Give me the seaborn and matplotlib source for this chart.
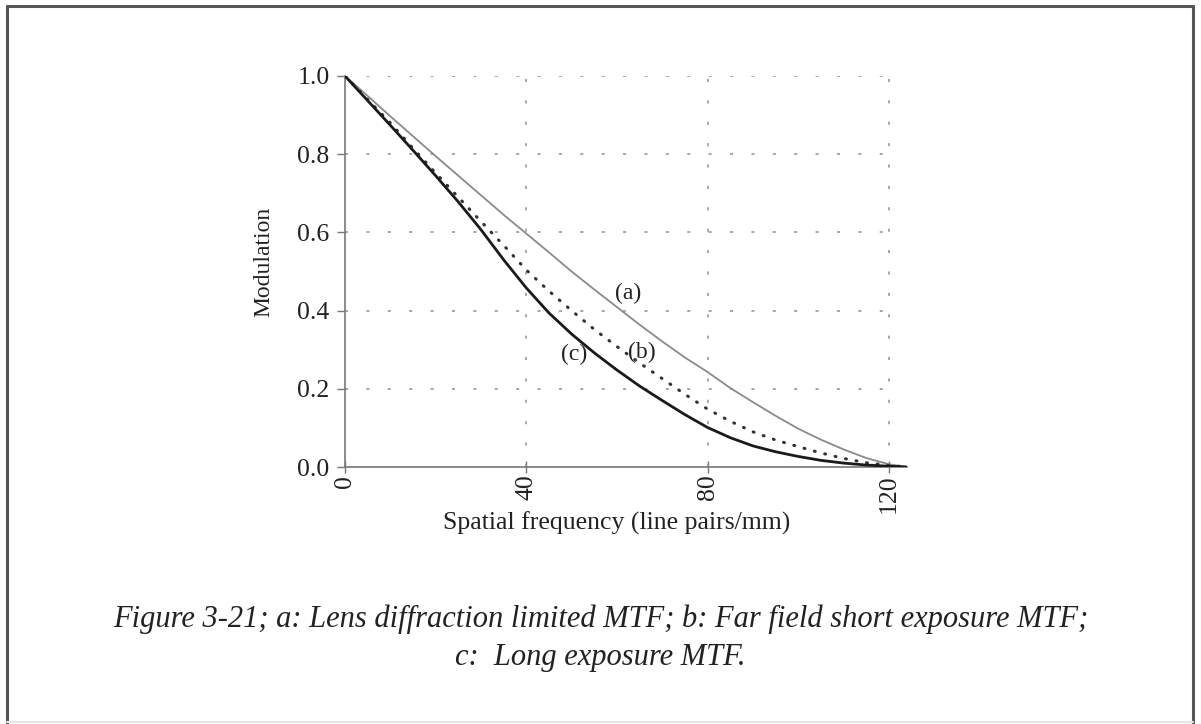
import matplotlib
matplotlib.use("Agg")
import matplotlib.pyplot as plt
from matplotlib.lines import Line2D
import seaborn as sns
import pandas as pd

# Data
freq = [0, 5, 10, 15, 20, 25, 30, 35, 40, 45, 50, 55, 60, 65, 70, 75, 80, 85, 90,
        95, 100, 105, 110, 115, 120, 124]
mtf_a = [1.0, 0.949, 0.897, 0.846, 0.795, 0.745, 0.695, 0.645, 0.597, 0.549, 0.500,
         0.454, 0.409, 0.364, 0.321, 0.280, 0.243, 0.202, 0.166, 0.131, 0.098, 0.070,
         0.045, 0.023, 0.007, 0.0]
mtf_b = [1.0, 0.940, 0.880, 0.815, 0.752, 0.690, 0.628, 0.567, 0.504, 0.450, 0.400,
         0.352, 0.308, 0.266, 0.226, 0.186, 0.148, 0.117, 0.090, 0.069, 0.052, 0.036,
         0.022, 0.011, 0.004, 0.0]
mtf_c = [1.0, 0.937, 0.874, 0.810, 0.745, 0.678, 0.607, 0.530, 0.458, 0.394, 0.340,
         0.292, 0.248, 0.207, 0.170, 0.134, 0.101, 0.075, 0.054, 0.039, 0.027, 0.017,
         0.010, 0.005, 0.002, 0.0]
curve_labels = ["(a)", "(b)", "(c)"]
label_x = [62.5, 65.5, 50.5]
label_y = [0.443, 0.292, 0.287]
x_ticks = [0, 40, 80, 120]
y_ticks = [0.0, 0.2, 0.4, 0.6, 0.8, 1.0]
x_title = "Spatial frequency (line pairs/mm)"
y_title = "Modulation"
caption_1 = "Figure 3-21; a: Lens diffraction limited MTF; b: Far field short exposure MTF;"
caption_2 = "c:  Long exposure MTF."

sns.set_style("white")
plt.rcParams["font.family"] = ["Liberation Serif", "DejaVu Serif"]

df = pd.DataFrame({"freq": freq, "a": mtf_a, "b": mtf_b, "c": mtf_c})

W, H = 1201, 724
fig = plt.figure(figsize=(W / 100, H / 100), dpi=100)
ax = fig.add_axes([345 / W, 257 / H, 562 / W, 391 / H])

# grid (dotted, limited to 0..120 and 0..1)
grid_ls = (0, (2, 12))
ax.hlines(y_ticks[1:], 0, 120, colors="#8f8f8f", linestyles=[grid_ls], linewidth=1.1, zorder=1)
ax.vlines(x_ticks[1:], 0, 1.0, colors="#8f8f8f", linestyles=[grid_ls], linewidth=1.1, zorder=1)

sns.lineplot(data=df, x="freq", y="a", ax=ax, color="#8a8a8a", linewidth=1.3, zorder=3)
sns.lineplot(data=df, x="freq", y="b", ax=ax, color="#333333", linewidth=2.2,
             linestyle=(0, (0.3, 3.2)), dash_capstyle="round", zorder=3)
sns.lineplot(data=df, x="freq", y="c", ax=ax, color="#1a1a1a", linewidth=2.0, zorder=4)

for lab, lx, ly in zip(curve_labels, label_x, label_y):
    ax.text(lx, ly, lab, fontsize=17, color="#222222", ha="center", va="center", zorder=5)

ax.set_xlim(0, 124)
ax.set_ylim(0, 1.0)
ax.set_xticks(x_ticks)
ax.set_xticklabels([str(t) for t in x_ticks], rotation=90, fontsize=18.5, color="#222222")
ax.set_yticks(y_ticks)
ax.set_yticklabels([f"{t:.1f}" for t in y_ticks], fontsize=18.5, color="#222222")
ax.tick_params(axis="y", direction="out", length=6, width=1, color="#777777", pad=5, left=True)
ax.tick_params(axis="x", direction="inout", length=9, width=1, color="#777777", pad=1, bottom=True)
for s in ["top", "right"]:
    ax.spines[s].set_visible(False)
for s in ["left", "bottom"]:
    ax.spines[s].set_color("#777777")
    ax.spines[s].set_linewidth(1.2)
ax.set_xlabel(x_title, fontsize=18.5, color="#222222")
ax.set_ylabel(y_title, fontsize=17, color="#222222")
ax.xaxis.set_label_coords(60 / 124, -(523 - 467) / 391, transform=ax.transAxes)
ax.xaxis.label.set_va("center")
ax.yaxis.set_label_coords(-(345 - 264) / 562, (467 - 262) / 391, transform=ax.transAxes)
ax.yaxis.label.set_va("center")

fig.text(0.5, 1 - 619 / H, caption_1, ha="center", va="center", fontsize=22,
         style="italic", color="#222222")
fig.text(0.5, 1 - 657 / H, caption_2, ha="center", va="center", fontsize=22,
         style="italic", color="#222222")

# page frame
fc = "#555555"
fig.add_artist(Line2D([7 / W, 7 / W], [0, 1 - 6 / H], transform=fig.transFigure, color=fc, lw=2.2))
fig.add_artist(Line2D([7 / W, 1193 / W], [1 - 6 / H, 1 - 6 / H], transform=fig.transFigure, color=fc, lw=2.2))
fig.add_artist(Line2D([1193 / W, 1193 / W], [0, 1 - 6 / H], transform=fig.transFigure, color=fc, lw=2.2))
fig.add_artist(Line2D([7 / W, 1193 / W], [2 / H, 2 / H], transform=fig.transFigure, color="#e6e6e6", lw=1.5))

fig.savefig("out.png", dpi=100, facecolor="white")
